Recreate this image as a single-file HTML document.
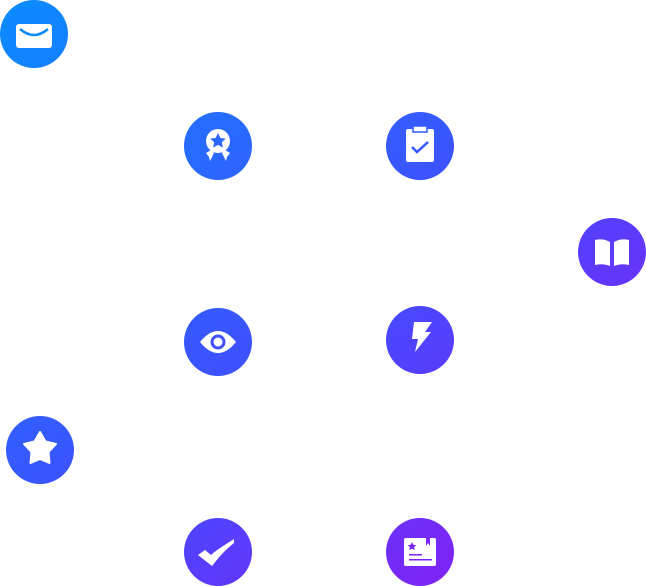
<!DOCTYPE html>
<html><head><style>html,body{margin:0;padding:0;background:#fff;width:646px;height:586px;overflow:hidden}</style></head>
<body>
<svg width="646" height="586" viewBox="0 0 646 586" xmlns="http://www.w3.org/2000/svg">
<defs>
<linearGradient id="g" gradientUnits="userSpaceOnUse" x1="0" y1="0" x2="500" y2="600">
<stop offset="0" stop-color="#0a8cff"/>
<stop offset="0.35" stop-color="#2b66ff"/>
<stop offset="0.6" stop-color="#424cff"/>
<stop offset="1" stop-color="#8a1cf5"/>
</linearGradient>
</defs>
<g fill="url(#g)">
<circle cx="34" cy="34" r="34"/>
<circle cx="218" cy="146" r="34"/>
<circle cx="420" cy="146" r="34"/>
<circle cx="612" cy="252" r="34"/>
<circle cx="218" cy="342" r="34"/>
<circle cx="420" cy="340" r="34"/>
<circle cx="40" cy="450" r="34"/>
<circle cx="218" cy="552" r="34"/>
<circle cx="420" cy="552" r="34"/>
</g>
<!-- envelope -->
<rect x="16" y="24" width="36" height="24" rx="3" fill="#fff"/>
<path d="M20 29 Q34 41 48 29" stroke="#0a8cff" stroke-width="2.5" fill="none"/>
<!-- award -->
<circle cx="218" cy="141" r="12" fill="#fff"/>
<path d="M218 133 l2.4 5 5.4.6 -4 3.7 1.1 5.3 -4.9-2.7 -4.9 2.7 1.1-5.3 -4-3.7 5.4-.6z" fill="#2a66ff"/>
<path d="M206 153 l5 -3 3 3 -4 8 -1-4z M230 153 l-5 -3 -3 3 4 8 1-4z" fill="#fff"/>
<!-- clipboard -->
<rect x="406" y="129" width="28" height="33" rx="2" fill="#fff"/>
<rect x="413" y="126" width="14" height="6" fill="#fff" stroke="#3558ff" stroke-width="1.5"/>
<path d="M412 147 l5 5 11-10" stroke="#3558ff" stroke-width="2.5" fill="none"/>
<!-- book -->
<path d="M595 240 q8-2 15 2 v24 q-7-3-15-1z M629 240 q-8-2-15 2 v24 q7-3 15-1z" fill="#fff"/>
<!-- eye -->
<path d="M200 342 q18-22 36 0 q-18 22-36 0z" fill="#fff"/>
<circle cx="218" cy="342" r="7.5" fill="#4250ff"/>
<circle cx="218" cy="342" r="4.5" fill="#fff"/>
<!-- bolt -->
<path d="M414 322 h18 l-7 10 h6 l-16 20 3-13 h-6z" fill="#fff"/>
<!-- star -->
<path d="M40 432 l5.5 9.5 10.5 2.5 -7.5 8 1 11 -9.5-4 -9.5 4 1-11 -7.5-8 10.5-2.5z" fill="#fff" stroke="#fff" stroke-width="2" stroke-linejoin="round"/>
<!-- check -->
<path d="M198 555 l7-5 6 5 c8-7 14-10 23-16 v4 c-9 7-15 14-22 23z" fill="#fff"/>
<!-- doc -->
<rect x="404" y="538" width="32" height="28" rx="2" fill="#fff"/>
<path d="M412 542 l1.3 2.7 3 .4 -2.2 2 .6 3 -2.7-1.5 -2.7 1.5 .6-3 -2.2-2 3-.4z" fill="#7a25f8"/>
<path d="M426 538 v8 l2-3 2 3 v-8z" fill="#7a25f8"/>
<rect x="409" y="554" width="13" height="1.5" fill="#7a25f8"/>
<rect x="409" y="559" width="23" height="1.5" fill="#7a25f8"/>
</svg>
</body></html>
